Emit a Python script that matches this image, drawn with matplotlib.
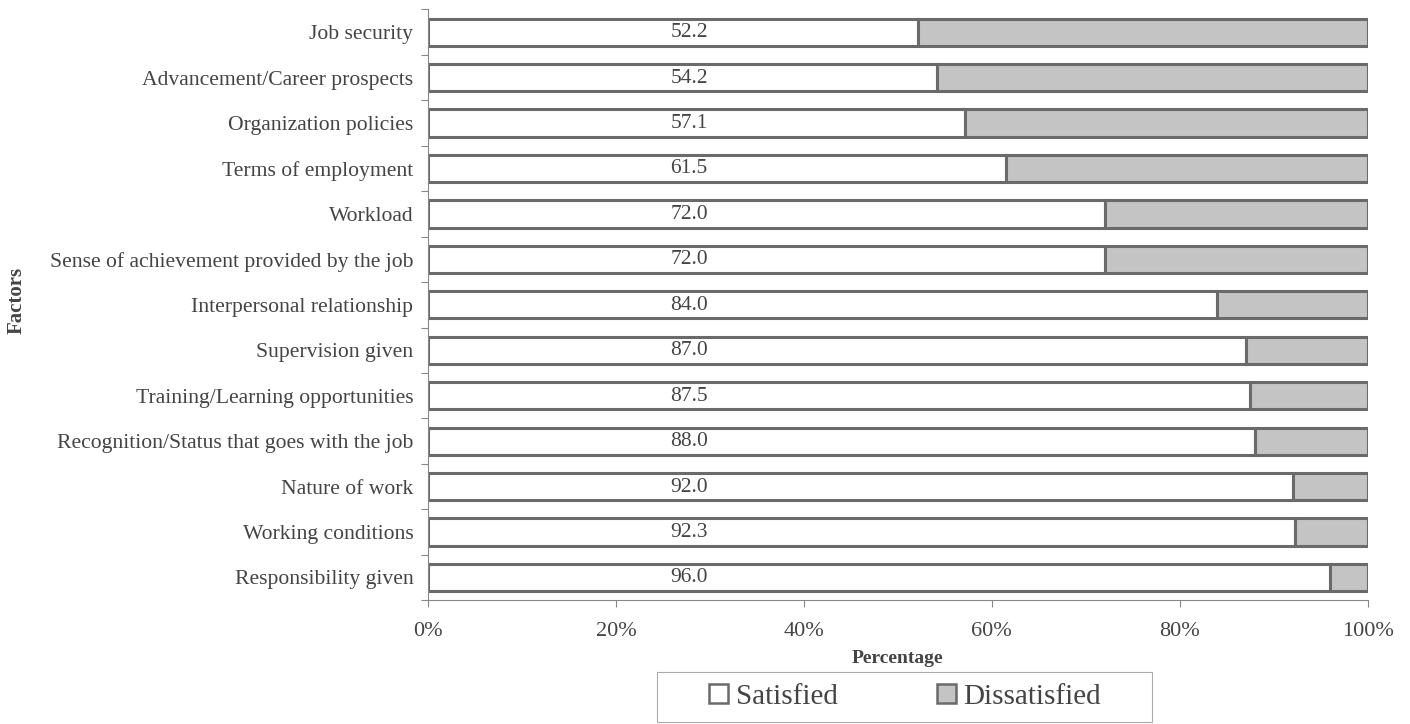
import numpy as np
import matplotlib
matplotlib.use("Agg")
import matplotlib.pyplot as plt
from matplotlib.ticker import FixedLocator
from matplotlib.patches import Rectangle

# data (top to bottom as in the picture)
factors = [
    "Job security",
    "Advancement/Career prospects",
    "Organization policies",
    "Terms of employment",
    "Workload",
    "Sense of achievement provided by the job",
    "Interpersonal relationship",
    "Supervision given",
    "Training/Learning opportunities",
    "Recognition/Status that goes with the job",
    "Nature of work",
    "Working conditions",
    "Responsibility given",
]
satisfied = [52.2, 54.2, 57.1, 61.5, 72.0, 72.0, 84.0, 87.0, 87.5, 88.0, 92.0, 92.3, 96.0]
dissatisfied = [100 - v for v in satisfied]
x_ticks = [0, 20, 40, 60, 80, 100]

plt.rcParams['font.family'] = ['Liberation Serif', 'DejaVu Serif']
text_col = '#444444'
edge_col = '#6a6a6a'

fig = plt.figure(figsize=(14.1, 7.24), dpi=100)
ax = fig.add_axes([0.3035, 0.171, 0.6665, 0.816])

y = np.arange(len(factors))
h = 0.6
ax.barh(y, satisfied, height=h, color='white', edgecolor=edge_col, linewidth=2.2, label='Satisfied')
ax.barh(y, dissatisfied, left=satisfied, height=h, color='#c4c4c4', edgecolor=edge_col,
        linewidth=2.2, label='Dissatisfied')

for yi, v in zip(y, satisfied):
    ax.text(27.8, yi + 0.01, f"{v:.1f}", ha='center', va='center', fontsize=15.5, color=text_col)

ax.set_ylim(len(factors) - 0.5, -0.5)
ax.set_xlim(0, 100)
ax.set_yticks(y)
ax.set_yticklabels(factors, fontsize=15.6, color=text_col)
ax.yaxis.set_minor_locator(FixedLocator(np.arange(-0.5, len(factors), 1)))
ax.tick_params(axis='y', which='major', length=0, pad=10.5)
ax.tick_params(axis='y', which='minor', length=5, color='#888888', width=0.8)

ax.set_xticks(x_ticks)
ax.set_xticklabels([f"{t}%" for t in x_ticks], fontsize=16, color=text_col)
ax.tick_params(axis='x', length=5, color='#888888', width=0.8, pad=11)

for s in ['top', 'right']:
    ax.spines[s].set_visible(False)
for s in ['left', 'bottom']:
    ax.spines[s].set_color('#888888')
    ax.spines[s].set_linewidth(0.8)

ax.set_xlabel("Percentage", fontsize=14, fontweight='bold', color=text_col, labelpad=6)
fig.text(0.0115, 0.585, "Factors", rotation=90, fontsize=15, fontweight='bold',
         color=text_col, ha='center', va='center')

leg = fig.legend(*ax.get_legend_handles_labels(), loc='center',
                 bbox_to_anchor=(905 / 1410, 1 - 697 / 724), ncol=2, frameon=False,
                 fontsize=21, handlelength=0.65, handleheight=0.65,
                 handletextpad=0.25, columnspacing=3.4, borderpad=0.2, borderaxespad=0)
for t in leg.get_texts():
    t.set_color(text_col)
for p in leg.get_patches():
    p.set_linewidth(1.8)
# legend box
fig.patches.append(Rectangle((657 / 1410, 2 / 724), 495 / 1410, 50 / 724, transform=fig.transFigure,
                             fill=False, edgecolor='#aaaaaa', linewidth=0.8))

fig.savefig("out.png", dpi=100)
